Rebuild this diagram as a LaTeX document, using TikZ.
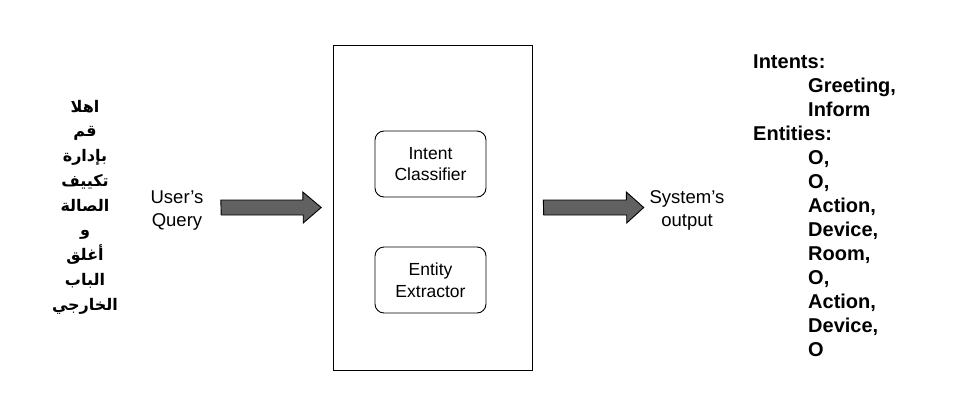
\documentclass[tikz,border=0pt]{standalone}
\usepackage{fontspec}
\setmainfont{Liberation Sans}
\newfontfamily\arabicfont[Script=Arabic]{DejaVu Sans}
\TeXXeTstate=1
\begin{document}
\begin{tikzpicture}[x=1pt,y=-1pt,
  lbl/.style={font=\fontsize{18.5}{23}\selectfont, align=center, inner sep=0pt},
  inbox/.style={draw=black, line width=0.9pt, rounded corners=9pt, minimum width=111pt, minimum height=66pt, align=center, font=\fontsize{17.5}{21.5}\selectfont},
  arline/.style={font=\fontsize{16}{24.75}\selectfont\arabicfont\bfseries, inner sep=0pt, anchor=base},
  listtxt/.style={font=\fontsize{20}{24}\selectfont\bfseries, inner sep=0pt, anchor=base west}
]
\useasboundingbox (0,0) rectangle (975,413);
\node[draw=black, line width=0.9pt, minimum width=199pt, minimum height=325pt, inner sep=0pt] (main) at (432.5,207.5) {};
\node[inbox] (ic) at (430.5,164) {Intent\\Classifier};
\node[inbox] (ee) at (430.5,280) {Entity\\Extractor};
\node[lbl] (uq) at (177,211) {User's\\Query};
\node[lbl] (so) at (687,210) {System's\\output};
\node[draw=none, minimum width=100pt, minimum height=31pt, inner sep=0pt] (a1) at (271,207.5) {};
\node[draw=none, minimum width=100pt, minimum height=31pt, inner sep=0pt] (a2) at (593.5,207.5) {};
\draw[line width=0.9pt, fill=black!62]
  (a1.west) ++(0,-7.5) -- ++(82,0) -- ++(0,-8) -- (a1.east) -- ++(-18,15.5) -- ++(0,-8) -- ++(-82,0) -- cycle;
\draw[line width=0.9pt, fill=black!62]
  (a2.west) ++(0,-7.5) -- ++(83,0) -- ++(0,-8) -- (a2.east) -- ++(-17,15.5) -- ++(0,-8) -- ++(-83,0) -- cycle;
\node[arline] (w1) at (85,112) {\beginR اهلا\endR};
\node[arline] (w2) at (85,136.75) {\beginR قم\endR};
\node[arline] (w3) at (85,161.5) {\beginR بإدارة\endR};
\node[arline] (w4) at (85,186.25) {\beginR تكييف\endR};
\node[arline] (w5) at (85,211) {\beginR الصالة\endR};
\node[arline] (w6) at (85,235.75) {\beginR و\endR};
\node[arline] (w7) at (85,260.5) {\beginR أغلق\endR};
\node[arline] (w8) at (85,285.25) {\beginR الباب\endR};
\node[arline] (w9) at (85,310) {\beginR الخارجي\endR};
\node[listtxt] (t1) at (753,68) {Intents:};
\node[listtxt] (t2) at (808,92) {Greeting,};
\node[listtxt] (t3) at (808,116) {Inform};
\node[listtxt] (t4) at (753,140) {Entities:};
\node[listtxt] (t5) at (808,164) {O,};
\node[listtxt] (t6) at (808,188) {O,};
\node[listtxt] (t7) at (808,212) {Action,};
\node[listtxt] (t8) at (808,236) {Device,};
\node[listtxt] (t9) at (808,260) {Room,};
\node[listtxt] (t10) at (808,284) {O,};
\node[listtxt] (t11) at (808,308) {Action,};
\node[listtxt] (t12) at (808,332) {Device,};
\node[listtxt] (t13) at (808,356) {O};
\end{tikzpicture}
\end{document}
